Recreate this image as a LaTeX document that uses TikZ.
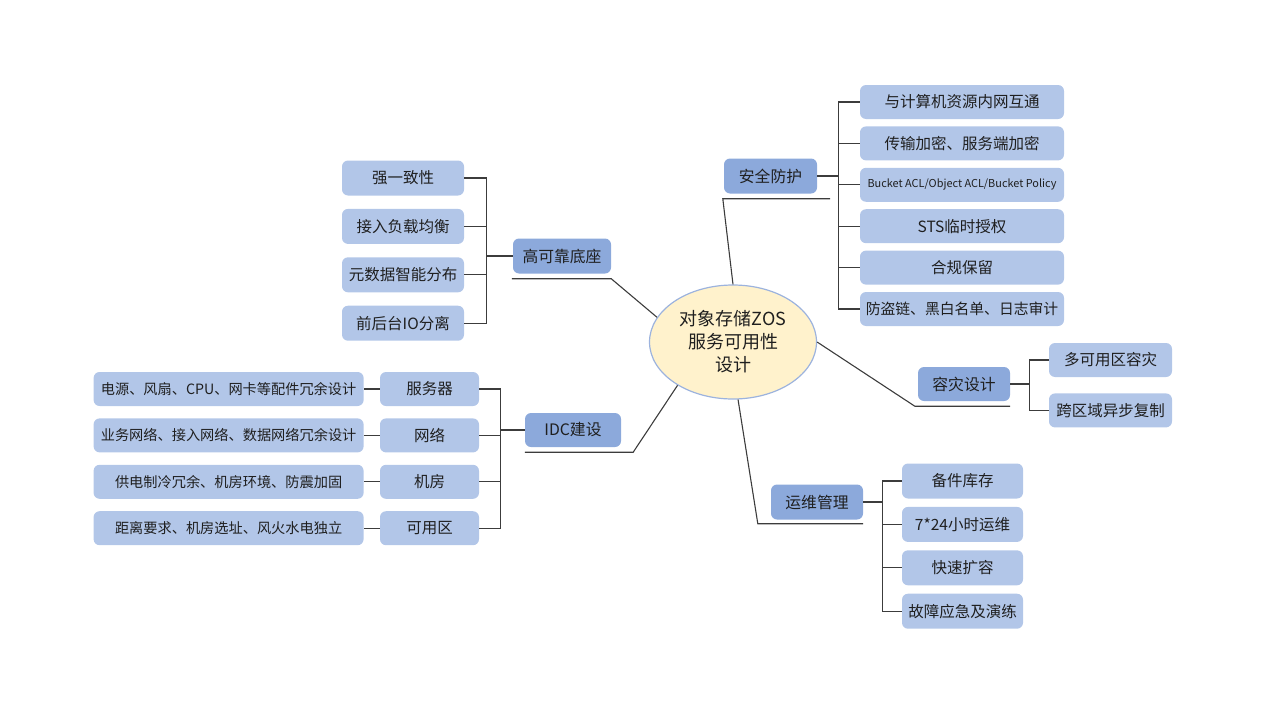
\documentclass[tikz,border=0pt]{standalone}
\usepackage{fontspec}
\newfontfamily\cjk{Noto Sans CJK SC}
\usetikzlibrary{positioning,shapes.geometric}
\definecolor{leafblue}{HTML}{B2C6E8}
\definecolor{topicblue}{HTML}{8CA9DB}
\definecolor{rootfill}{HTML}{FFF2CC}
\definecolor{rootline}{HTML}{9CB3DE}
\definecolor{linkgray}{HTML}{3C3C3C}
\tikzset{root node/.style={ellipse,fill=rootfill,draw=rootline,line width=1.2pt,minimum width=167pt,minimum height=114pt,inner sep=0pt,align=center,text=black!88,font=\cjk\fontsize{18}{23}\selectfont},
  topic node/.style={rectangle,rounded corners=6pt,fill=topicblue,minimum height=35pt,inner sep=0pt,text=black!88,font=\cjk\fontsize{15.8}{18}\selectfont},
  leaf node/.style={rectangle,rounded corners=6pt,fill=leafblue,minimum height=34pt,inner sep=0pt,text=black!88,font=\cjk\fontsize{15.5}{18}\selectfont},
  link/.style={draw=linkgray,line width=1.1pt},}
\newcommand{\twig}[2]{\path[link] (#1) |- (#2);}

\begin{document}
\begin{tikzpicture}[x=1pt,y=-1pt]
        \useasboundingbox (0,0) rectangle (1266,712);
        \node[root node] (root) at (733,342) {对象存储ZOS\\服务可用性\\设计};

        % 安全防护
        \node[topic node, minimum width=93pt] (sec) at (770.5,176) {安全防护};
        \node[leaf node, minimum width=204pt] (s1) at (962,102) {与计算机资源内网互通};
        \node[leaf node, minimum width=204pt] (s2) [below = 7pt of s1] {传输加密、服务端加密};
        \node[leaf node, minimum width=204pt, font=\cjk\fontsize{10.9}{12}\selectfont] (s3) [below = 7pt of s2] {Bucket ACL/Object ACL/Bucket Policy};
        \node[leaf node, minimum width=204pt] (s4) [below = 7pt of s3] {STS临时授权};
        \node[leaf node, minimum width=204pt] (s5) [below = 7pt of s4] {合规保留};
        \node[leaf node, minimum width=204pt, font=\cjk\fontsize{14.8}{18}\selectfont] (s6) [below = 7pt of s5] {防盗链、黑白名单、日志审计};
        \coordinate (secbus) at ([xshift=21pt]sec.east);
        \coordinate (secfoot) at ([xshift=-1pt,yshift=-5pt]sec.south west);
        \coordinate (sectail) at ([xshift=13pt,yshift=-5pt]sec.south east);

        % 高可靠底座
        \node[topic node, minimum width=98pt] (rel) at (562,256) {高可靠底座};
        \node[leaf node, minimum width=122pt, minimum height=35pt] (r1) at (403,178) {强一致性};
        \node[leaf node, minimum width=122pt, minimum height=35pt] (r2) [below = 13pt of r1] {接入负载均衡};
        \node[leaf node, minimum width=122pt, minimum height=35pt] (r3) [below = 13pt of r2] {元数据智能分布};
        \node[leaf node, minimum width=122pt, minimum height=35pt] (r4) [below = 13pt of r3] {前后台IO分离};
        \coordinate (relbus) at ([xshift=-26pt]rel.west);
        \coordinate (relfoot) at ([yshift=-5pt]rel.south east);
        \coordinate (reltail) at ([xshift=-1pt,yshift=-5pt]rel.south west);

        % IDC建设
        \node[topic node, minimum width=96pt, minimum height=34pt] (idc) at (573,430) {IDC建设};
        \node[leaf node, minimum width=99pt] (d1) at (429.5,389) {服务器};
        \node[leaf node, minimum width=99pt] (d2) [below = 12pt of d1] {网络};
        \node[leaf node, minimum width=99pt] (d3) [below = 12pt of d2] {机房};
        \node[leaf node, minimum width=99pt] (d4) [below = 12pt of d3] {可用区};
        \node[leaf node, minimum width=270pt, font=\cjk\fontsize{14.2}{17}\selectfont] (e1) [left = 16pt of d1] {电源、风扇、CPU、网卡等配件冗余设计};
        \node[leaf node, minimum width=270pt, font=\cjk\fontsize{14.2}{17}\selectfont] (e2) [left = 16pt of d2] {业务网络、接入网络、数据网络冗余设计};
        \node[leaf node, minimum width=270pt, font=\cjk\fontsize{14.2}{17}\selectfont] (e3) [left = 16pt of d3] {供电制冷冗余、机房环境、防震加固};
        \node[leaf node, minimum width=270pt, font=\cjk\fontsize{14.2}{17}\selectfont] (e4) [left = 16pt of d4] {距离要求、机房选址、风火水电独立};
        \coordinate (idcbus) at ([xshift=-24pt]idc.west);
        \coordinate (idcfoot) at ([xshift=12pt,yshift=-5pt]idc.south east);
        \coordinate (idctail) at ([yshift=-5pt]idc.south west);

        % 容灾设计
        \node[topic node, minimum width=92pt, minimum height=34pt] (dr) at (964,384) {容灾设计};
        \node[leaf node, minimum width=123pt] (k1) at (1110.5,360) {多可用区容灾};
        \node[leaf node, minimum width=123pt] (k2) [below = 16pt of k1] {跨区域异步复制};
        \coordinate (drbus) at ([xshift=19pt]dr.east);
        \coordinate (drfoot) at ([xshift=-3pt,yshift=-5pt]dr.south west);
        \coordinate (drtail) at ([yshift=-5pt]dr.south east);

        % 运维管理
        \node[topic node, minimum width=92pt] (ops) at (817,502) {运维管理};
        \node[leaf node, minimum width=121pt, minimum height=35pt] (o1) at (962.5,481) {备件库存};
        \node[leaf node, minimum width=121pt, minimum height=35pt] (o2) [below = 8pt of o1] {7*24小时运维};
        \node[leaf node, minimum width=121pt, minimum height=35pt] (o3) [below = 8pt of o2] {快速扩容};
        \node[leaf node, minimum width=121pt, minimum height=35pt] (o4) [below = 8pt of o3] {故障应急及演练};
        \coordinate (opsbus) at ([xshift=19pt]ops.east);
        \coordinate (opsfoot) at ([xshift=-13pt,yshift=-4pt]ops.south west);
        \coordinate (opstail) at ([yshift=-4pt]ops.south east);

        % root to topics
        \path[link] (root.north) -- (secfoot) -- (sectail);
        \path[link] (root.162) -- (relfoot) -- (reltail);
        \path[link] (root.218) -- (idcfoot) -- (idctail);
        \path[link] (root.east) -- (drfoot) -- (drtail);
        \path[link] (root.275) -- (opsfoot) -- (opstail);

        % topics to leaves
        \path[link] (sec.east) -- (secbus);
        \twig{secbus}{s1.west} \twig{secbus}{s2.west} \twig{secbus}{s3.west}
        \twig{secbus}{s4.west} \twig{secbus}{s5.west} \twig{secbus}{s6.west}
        \path[link] (rel.west) -- (relbus);
        \twig{relbus}{r1.east} \twig{relbus}{r2.east} \twig{relbus}{r3.east} \twig{relbus}{r4.east}
        \path[link] (idc.west) -- (idcbus);
        \twig{idcbus}{d1.east} \twig{idcbus}{d2.east} \twig{idcbus}{d3.east} \twig{idcbus}{d4.east}
        \path[link] (e1) -- (d1); \path[link] (e2) -- (d2);
        \path[link] (e3) -- (d3); \path[link] (e4) -- (d4);
        \path[link] (dr.east) -- (drbus);
        \twig{drbus}{k1.west} \twig{drbus}{k2.west}
        \path[link] (ops.east) -- (opsbus);
        \twig{opsbus}{o1.west} \twig{opsbus}{o2.west} \twig{opsbus}{o3.west} \twig{opsbus}{o4.west}
    \end{tikzpicture}
\end{document}
